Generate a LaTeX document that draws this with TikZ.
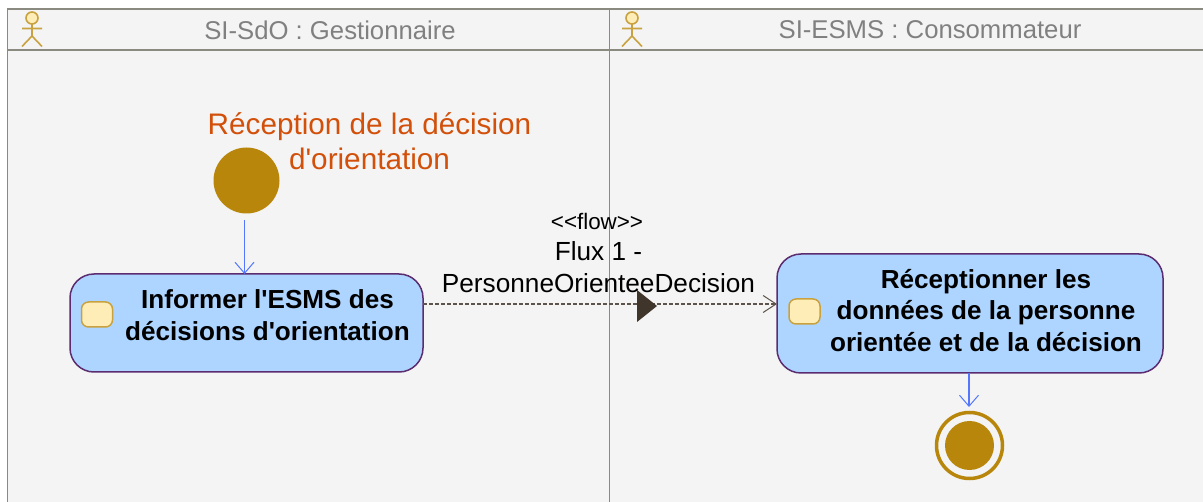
\documentclass[tikz,border=0pt]{standalone}
\usepackage{fontspec}
\setmainfont{Liberation Sans}[Ligatures=TeXOff]
\usetikzlibrary{arrows.meta,shapes.geometric}
\definecolor{lane}{HTML}{F4F4F4}
\definecolor{laneline}{HTML}{8A8A80}
\definecolor{gold}{HTML}{B8860B}
\definecolor{actor}{HTML}{C9A23F}
\definecolor{actfill}{HTML}{ADD5FF}
\definecolor{actline}{HTML}{5B2C6F}
\definecolor{iconfill}{HTML}{FFEDB8}
\definecolor{iconline}{HTML}{C9A23F}
\definecolor{flowblue}{HTML}{5577FF}
\definecolor{orangetxt}{HTML}{D2500A}
\definecolor{headtxt}{HTML}{808080}
\definecolor{flowdark}{HTML}{40352A}
\tikzset{
  every node/.style={inner sep=0pt,outer sep=0pt},
  activity/.style={draw=actline,line width=1.5pt,fill=actfill,rounded corners=24pt,anchor=north west},
  acttext/.style={font=\fontsize{26.1}{31.5}\selectfont\bfseries,align=center,text=black},
  acticon/.style={draw=iconline,line width=1.5pt,fill=iconfill,rounded corners=7pt,minimum width=31pt,minimum height=25pt},
  headtext/.style={font=\fontsize{25.7}{30}\selectfont,text=headtxt},
  flowtext/.style={font=\fontsize{26.2}{32}\selectfont,align=center,text=black},
  ctrl/.style={draw=flowblue,line width=1.5pt,-{Straight Barb[length=11pt,width=19pt,line width=1pt]}},
  flowarrow/.style={draw=flowdark!85,line width=1.3pt,dash pattern=on 4pt off 2pt,-{Straight Barb[length=13pt,width=17pt,line width=1pt]}},
  laneborder/.style={draw=laneline,line width=1.8pt},
  actorline/.style={draw=actor,line width=1.6pt}
}
\begin{document}
\begin{tikzpicture}[x=1pt,y=-1pt]
\useasboundingbox (0,0) rectangle (1203,502);
\fill[white] (0,0) rectangle (1203,502);
\fill[lane] (8,9) rectangle (1203,502);
% lanes
\draw[laneborder] (7.5,502) -- (7.5,9) -- (1203,9);
\draw[laneborder] (7.5,50) -- (1203,50);
\draw[laneborder] (609.5,9) -- (609.5,502);
% actors
\foreach \ax in {32,632}{
  \draw[actorline,fill=iconfill] (\ax,18) circle (6pt);
  \draw[actorline] (\ax,24) -- (\ax,36) (\ax-10,28.5) -- (\ax+10,28.5) (\ax-10,46.5) -- (\ax,36) -- (\ax+10,46.5);
}
\node[headtext] (h1) at (330,30) {SI-SdO : Gestionnaire};
\node[headtext] (h2) at (930,30) {SI-ESMS : Consommateur};
% start
\node[circle,fill=gold,minimum size=66pt] (start) at (246.5,180.5) {};
\node[font=\fontsize{29.7}{35}\selectfont,align=center,text=orangetxt] (startlabel) at (369.5,141) {Réception de la décision\\d'orientation};
% activities
\node[activity,minimum width=353pt,minimum height=98pt] (a1) at (70,274) {};
\node[acticon] (i1) at (97,314.5) {};
\node[acttext] (t1) at (267.5,315) {Informer l'ESMS des\\décisions d'orientation};
\node[activity,minimum width=386pt,minimum height=119pt] (a2) at (777,254) {};
\node[acticon] (i2) at (804.5,311.5) {};
\node[acttext] (t2) at (986,310.5) {Réceptionner les\\données de la personne\\orientée et de la décision};
% final
\node[circle,draw=gold,line width=3.5pt,fill=lane,minimum size=66pt] (final) at (969.5,445.5) {};
\node[circle,fill=gold,minimum size=49pt] (finalin) at (969.5,445.5) {};
% control flows
\coordinate (startout) at (244.5,220);
\coordinate (finalarr) at (969,407);
\coordinate (flowy) at (600,304);
\draw[ctrl] (startout) -- (startout |- a1.north);
\draw[ctrl] (finalarr |- a2.south) -- (finalarr);
% information flow
\draw[flowarrow] (a1.east |- flowy) -- (a2.west |- flowy);
\node[isosceles triangle,isosceles triangle apex angle=77,isosceles triangle stretches=true,fill=flowdark,minimum height=20pt,minimum width=32pt,shape border rotate=0,anchor=lower side] (tri) at (637,306) {};
\node[font=\fontsize{22.4}{24}\selectfont,text=black] (stereo) at (597,221) {<<flow>>};
\node[flowtext] (flow) at (598.5,267.5) {Flux 1 -\\PersonneOrienteeDecision};
\end{tikzpicture}
\end{document}
